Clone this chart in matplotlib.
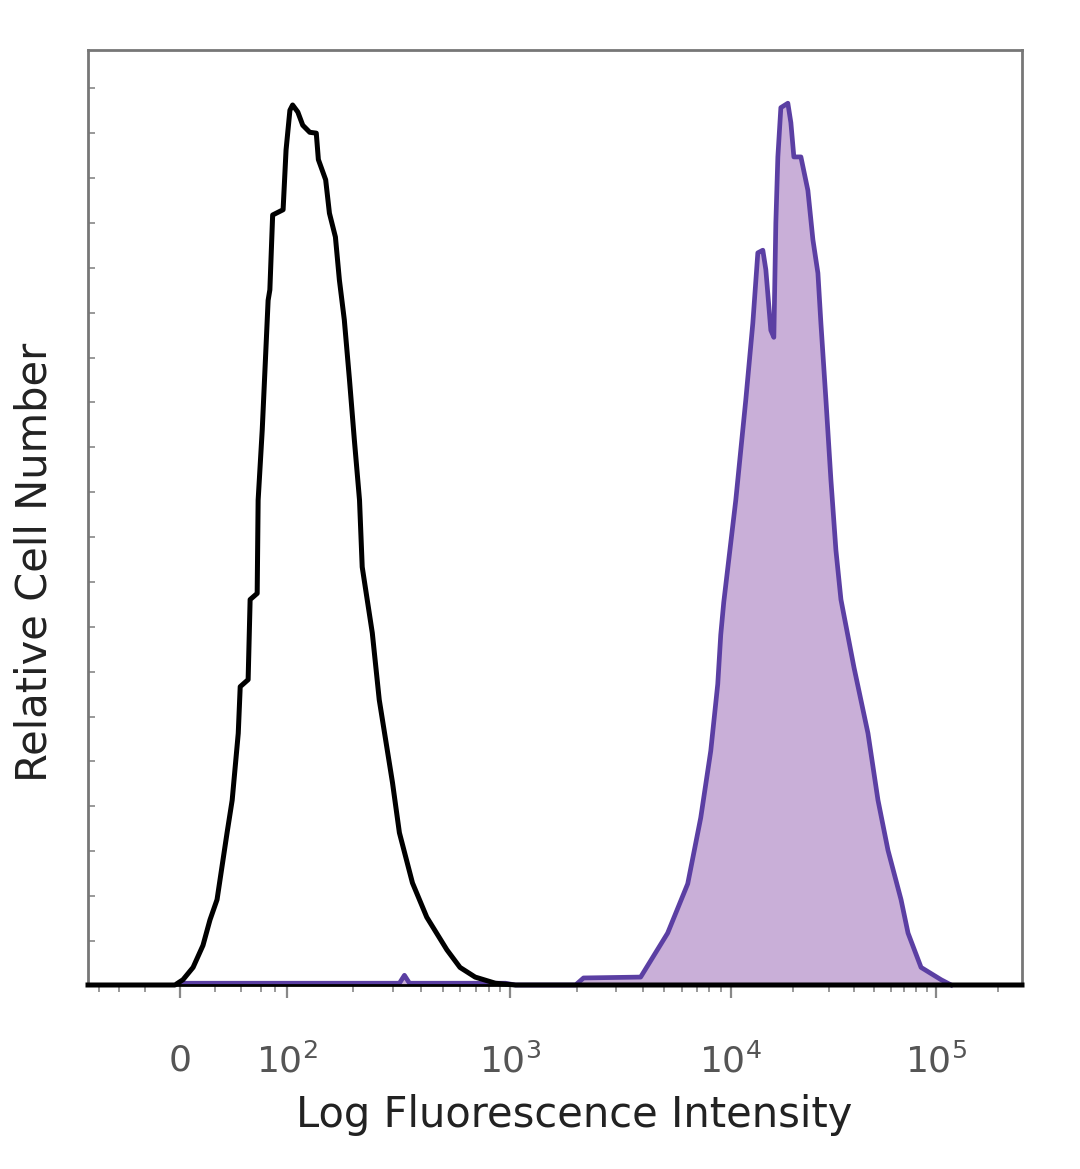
import matplotlib
matplotlib.use("Agg")
import matplotlib.pyplot as plt
import numpy as np

# Flow cytometry histogram: isotype control (black) vs stained (purple)

# ------------------------------------------------------------------------------
# Data (fluorescence intensity, relative cell count in % of peak)
# ------------------------------------------------------------------------------
control_x = [-75, -2.7, 1.6, 7.1, 12.7, 16.9, 21.4, 28.4, 32.3, 37.3,
             39, 46.4, 48.4, 56, 57.1, 62, 66, 69.6, 72, 76,
             84, 92.7, 98, 103, 106, 112, 118, 127, 136, 139,
             150, 156, 166, 173, 182, 192, 202, 213, 219, 243,
             261, 299, 321, 367, 425, 522, 597, 697, 857, 1054, 262143]
control_y = [0, 0, 0.6, 2.0, 4.5, 7.4, 9.7, 17.3, 21.0, 28.6,
             33.9, 34.7, 43.8, 44.5, 55.1, 63.1, 71.0, 77.8, 79.0, 87.5,
             87.8, 88.1, 94.9, 99.4, 100, 99.2, 97.7, 96.9, 96.8, 93.8,
             91.5, 87.7, 85.0, 80.1, 75.6, 68.8, 61.9, 55.1, 47.5, 40.0,
             32.4, 23.0, 17.3, 11.6, 7.7, 4.0, 2.0, 0.9, 0.2, 0, 0]

stained_x = [0, 321, 338, 356, 950, 1054, 1975, 2147, 3898, 5170,
             6376, 7305, 8112, 8728, 9005, 9293, 10578, 11835, 12805, 13544,
             14325, 14816, 15671, 16209, 16576, 16955, 17535, 18967, 19620, 20291,
             21956, 23744, 25119, 26572, 27479, 29070, 30744, 32521, 34404, 39811,
             46594, 52130, 58330, 67510, 73020, 84500, 105800, 118400]
stained_y = [0.2, 0.2, 1.1, 0.2, 0.2, 0, 0, 0.8, 0.9, 5.9,
             11.5, 19.0, 26.6, 34.2, 39.8, 43.5, 55.1, 66.5, 75.2, 83.2,
             83.5, 81.3, 74.4, 73.6, 86.6, 94.1, 99.7, 100.2, 98.0, 94.1,
             94.1, 90.3, 84.7, 80.9, 75.2, 66.5, 57.4, 49.4, 43.8, 36.1,
             28.6, 21.0, 15.3, 9.7, 5.9, 2.0, 0.6, 0]

major_ticks = [0, 1e2, 1e3, 1e4, 1e5]
major_labels = ["0", r"$10^{2}$", r"$10^{3}$", r"$10^{4}$", r"$10^{5}$"]
minor_ticks = ([-60, -40, -20, 20, 40, 60, 80]
               + [k * 100 for k in range(2, 10)]
               + [k * 1000 for k in range(2, 10)]
               + [k * 10000 for k in range(2, 10)]
               + [2e5])

# ------------------------------------------------------------------------------
# Biexponential-like axis: asinh near zero, log for large values
# ------------------------------------------------------------------------------
W = 30.0
ANCHOR_VALUES = np.array([-1e6, -1e2, 0, 1e2, 1e3, 1e4, 1e5, 1e6])
ANCHOR_POS = np.array([-9.6, -1.07, 0, 1.07, 3.30, 5.50, 7.55, 9.60])
ANCHOR_T = np.arcsinh(ANCHOR_VALUES / W)


def forward(x):
    t = np.arcsinh(np.asarray(x, dtype=float) / W)
    return np.interp(t, ANCHOR_T, ANCHOR_POS)


def inverse(p):
    t = np.interp(np.asarray(p, dtype=float), ANCHOR_POS, ANCHOR_T)
    return W * np.sinh(t)


fig = plt.figure(figsize=(10.8, 11.69), dpi=100)
ax = fig.add_axes([88 / 1080, 1 - 985 / 1169, 934 / 1080, 935 / 1169])
ax.set_xscale("function", functions=(forward, inverse))

purple_line = "#5b3fa3"
purple_fill = "#c9afd8"

ax.fill_between(stained_x, 0, stained_y, color=purple_fill, linewidth=0, zorder=1)
ax.plot(stained_x, stained_y, color=purple_line, linewidth=3.4, zorder=2,
        clip_on=False, solid_joinstyle="round")
ax.plot(control_x, control_y, color="black", linewidth=3.6, zorder=3,
        clip_on=False, solid_joinstyle="round")

ax.set_xlim(-75, 262143)
ax.set_ylim(0, 106.25)

ax.set_xticks(major_ticks)
ax.set_xticklabels(major_labels)
ax.set_xticks(minor_ticks, minor=True)
ax.tick_params(axis="x", which="major", direction="out", length=9, width=1.6,
               color="#888888", labelsize=26, labelcolor="#555555", pad=33)
ax.tick_params(axis="x", which="minor", direction="out", length=5, width=1.4,
               color="#999999")

ax.set_yticks(np.arange(5, 106, 5.1))
ax.set_yticklabels([])
ax.tick_params(axis="y", which="major", direction="in", length=5, width=1.4,
               color="#999999")

for side in ["left", "top", "right"]:
    ax.spines[side].set_color("#777777")
    ax.spines[side].set_linewidth(2.0)
ax.spines["bottom"].set_color("black")
ax.spines["bottom"].set_linewidth(2.0)

ax.set_xlabel("Log Fluorescence Intensity", fontsize=30, color="#222222")
ax.xaxis.set_label_coords(0.521, -0.117, transform=ax.transAxes)
ax.set_ylabel("Relative Cell Number", fontsize=30, color="#222222")
ax.yaxis.set_label_coords(-0.035, 0.452, transform=ax.transAxes)

fig.savefig("out.png", dpi=100)
